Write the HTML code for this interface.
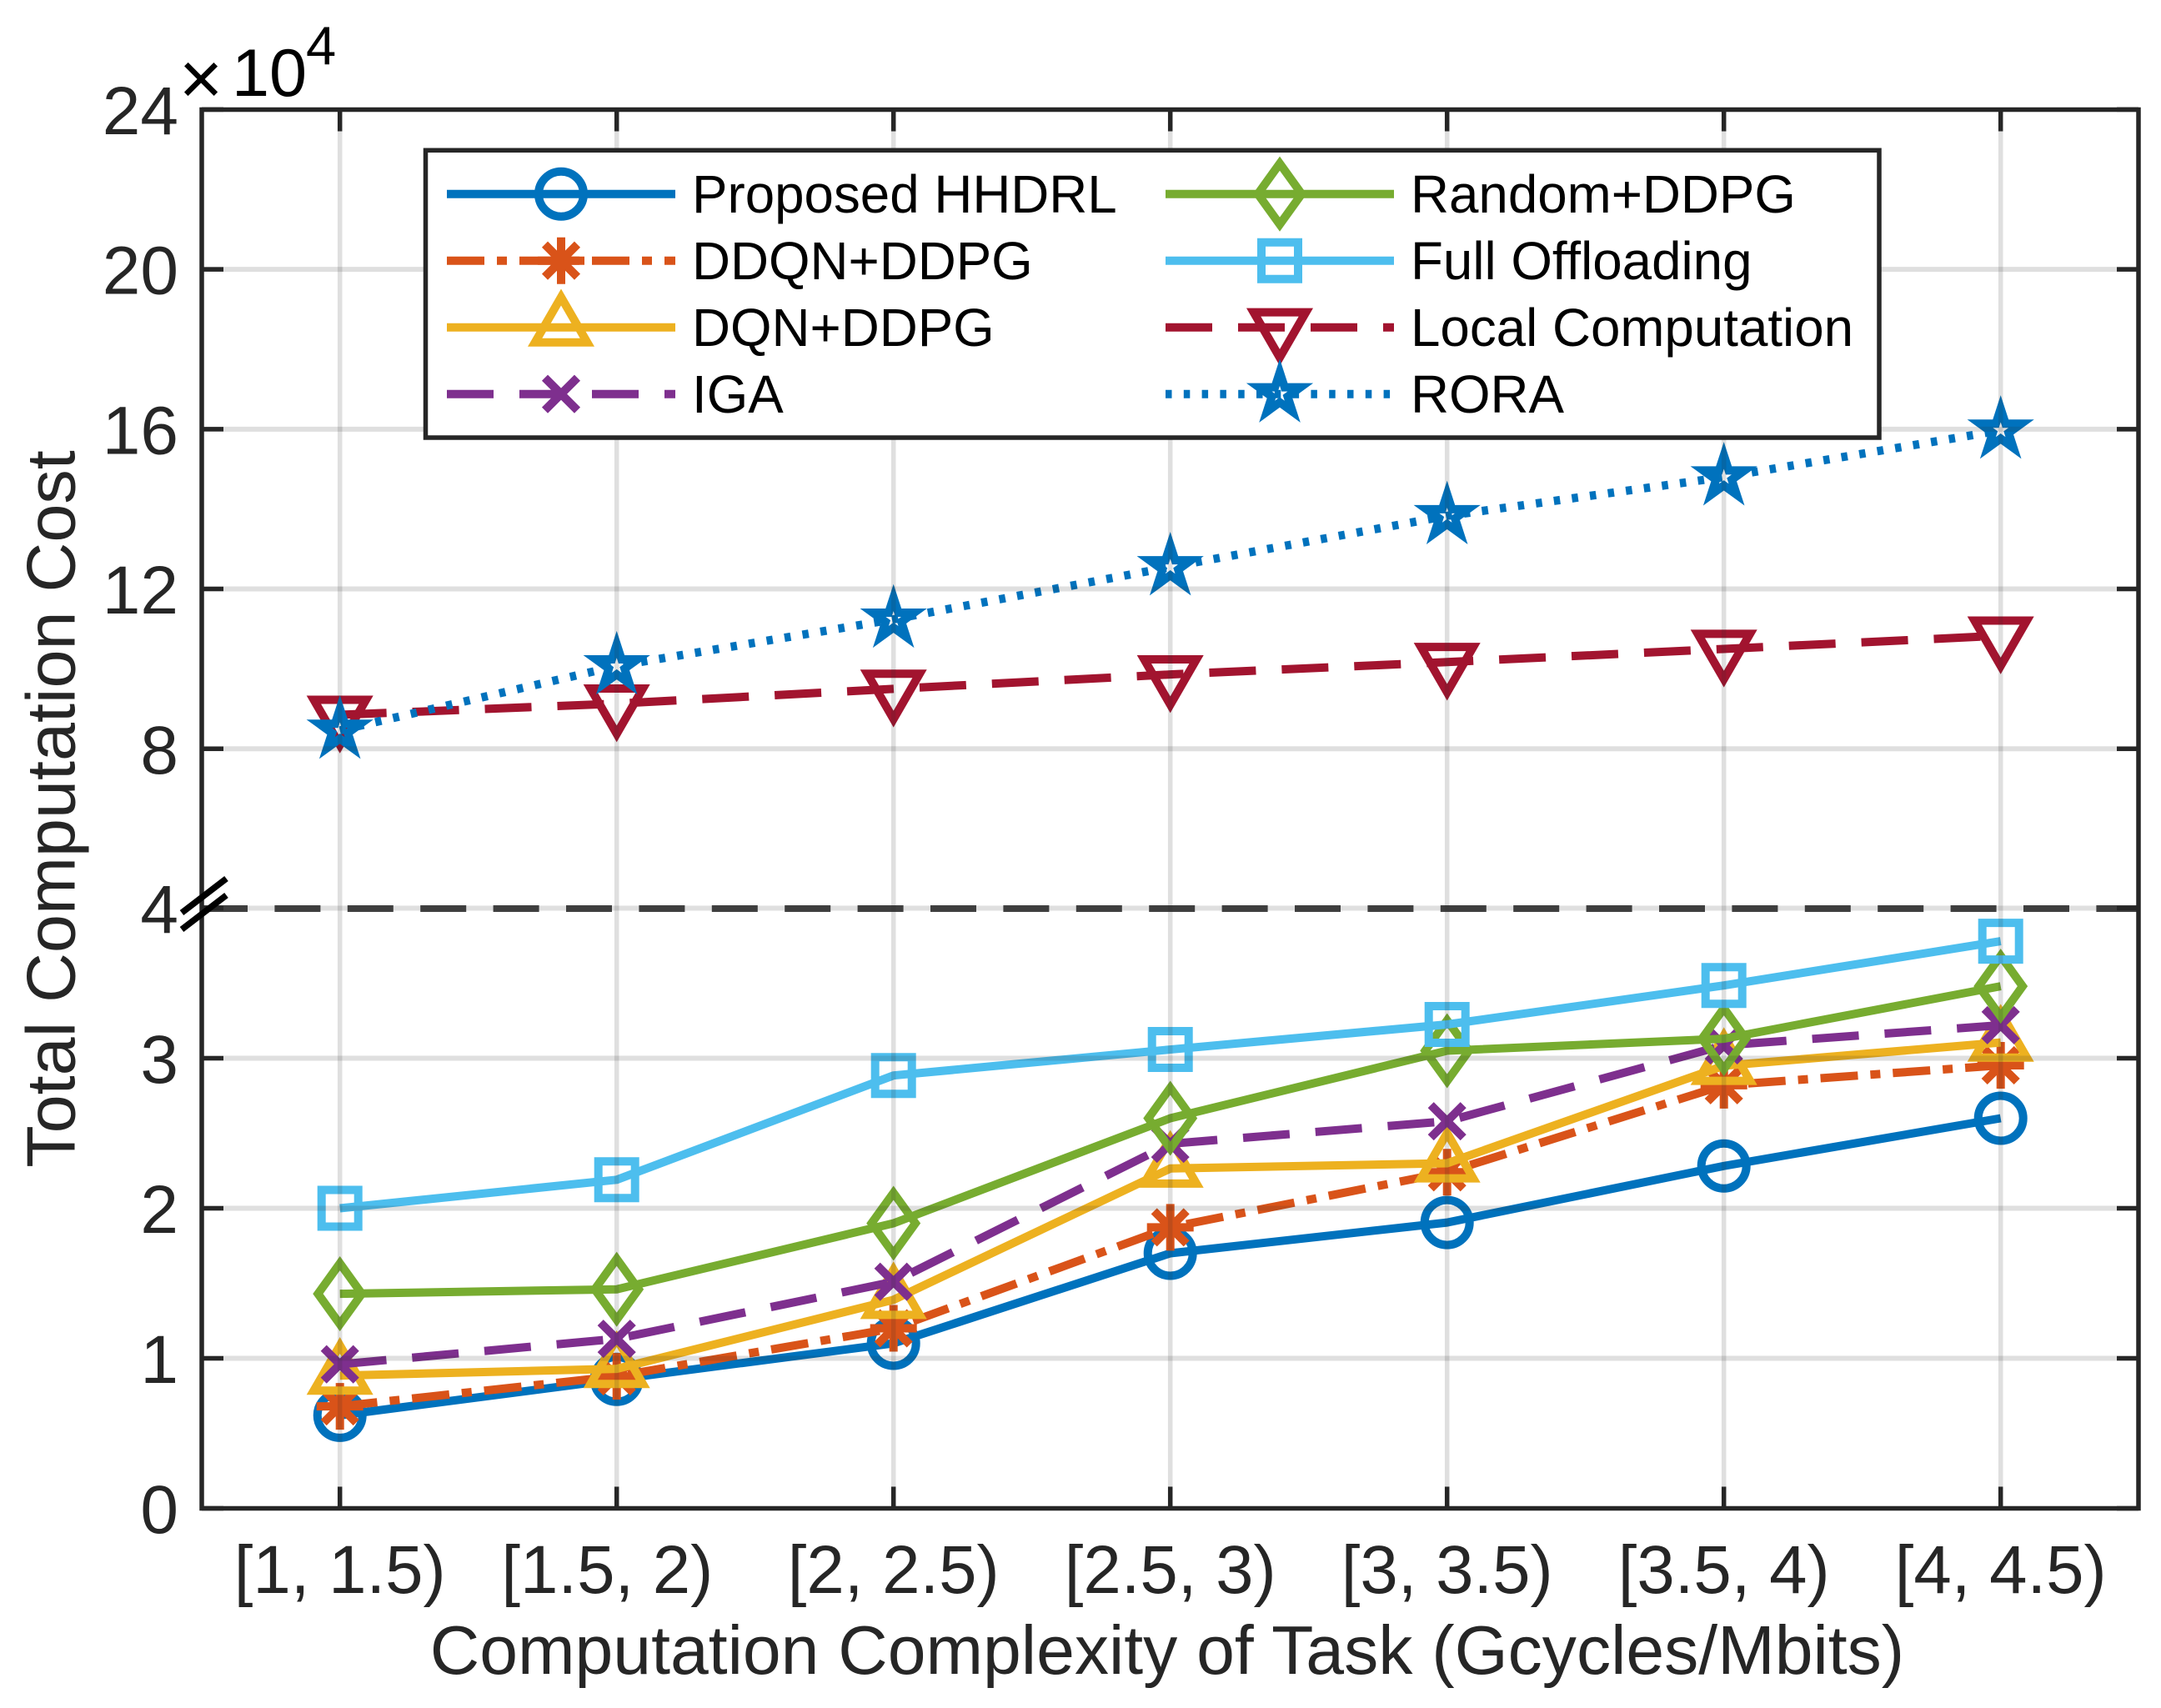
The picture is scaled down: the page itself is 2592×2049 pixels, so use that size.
<!DOCTYPE html>
<html lang="en">
<head>
<meta charset="utf-8">
<title>Total Computation Cost vs Computation Complexity of Task</title>
<style>
  html, body { margin: 0; padding: 0; background: #ffffff; }
  svg { display: block; }
  text { font-family: "Liberation Sans", Arial, sans-serif; }
</style>
</head>
<body>
<svg id="chart" xmlns="http://www.w3.org/2000/svg" width="2592" height="2049" viewBox="0 0 2592 2049">
  <rect x="0" y="0" width="2592" height="2049" fill="#ffffff"/>
  <g id="series-layer"></g>
  <line x1="242" y1="1090" x2="2565" y2="1090" stroke="#000" stroke-opacity="0.74" stroke-width="8" stroke-dasharray="55 32.4"/>
  <g id="grid-layer"></g>
  <g id="tick-layer"></g>
  <rect x="242" y="131.5" width="2323" height="1678" fill="none" stroke="#262626" stroke-width="5.5"/>
  <g stroke="#000" stroke-width="7.5" fill="none">
    <line x1="218" y1="1095" x2="271.5" y2="1054"/>
    <line x1="218" y1="1115" x2="271.5" y2="1074"/>
  </g>
  <g id="label-layer"></g>
  <g fill="#000">
    <text x="241" y="125" font-size="90" text-anchor="middle">×</text>
    <text x="278" y="115" font-size="81">10</text>
    <text x="367" y="77" font-size="65">4</text>
  </g>
  <text x="1400" y="2008" font-size="82.3" fill="#262626" text-anchor="middle">Computation Complexity of Task (Gcycles/Mbits)</text>
  <text x="0" y="0" font-size="82.8" fill="#262626" text-anchor="middle" transform="translate(89.5 970.5) rotate(-90)">Total Computation Cost</text>
  <g id="legend">
    <rect x="510.5" y="180.3" width="1743.5" height="344.7" fill="#ffffff" stroke="#262626" stroke-width="5.5"/>
  </g>
</svg>
<script>
// ---- chart data ----
const categories = ["[1, 1.5)", "[1.5, 2)\u00A0", "[2, 2.5)", "[2.5, 3)", "[3, 3.5)", "[3.5, 4)", "[4, 4.5)"];
const yTickValues = [0, 1, 2, 3, 4, 8, 12, 16, 20, 24];
const yGridValues = [1, 2, 3, 4, 8, 12, 16, 20];
const proposedHHDRL = [0.62, 0.86, 1.10, 1.70, 1.905, 2.282, 2.60];
const ddqnDdpg = [0.68, 0.88, 1.20, 1.873, 2.24, 2.82, 2.953];
const dqnDdpg = [0.885, 0.93, 1.39, 2.265, 2.30, 2.95, 3.105];
const iga = [0.96, 1.13, 1.51, 2.43, 2.58, 3.086, 3.22];
const randomDdpg = [1.43, 1.46, 1.90, 2.60, 3.05, 3.13, 3.48];
const fullOffloading = [2.00, 2.19, 2.885, 3.058, 3.225, 3.485, 3.78];
const localComputation = [8.85, 9.13, 9.5, 9.86, 10.17, 10.5, 10.83];
const rora = [8.46, 10.07, 11.24, 12.55, 13.83, 14.8, 15.97];

// ---- axis functions ----
function xScale(i) { return 407.7 + i * 332; }
function yScale(v) {
  return v <= 4 ? 1809.5 - 180 * v : 1090 - (v - 4) * 47.93;
}

const NS = "http://www.w3.org/2000/svg";
function make(tag, attrs, parent) {
  const el = document.createElementNS(NS, tag);
  for (const k in attrs) el.setAttribute(k, attrs[k]);
  parent.appendChild(el);
  return el;
}

function markerPoints(kind) {
  if (kind === "triUp") return [[0, -36.2], [31.35, 18.1], [-31.35, 18.1]];
  if (kind === "triDown") return [[0, 36.2], [31.35, -18.1], [-31.35, -18.1]];
  if (kind === "diamond") return [[0, -36.5], [26.3, 0], [0, 36.5], [-26.3, 0]];
  if (kind === "square") return [[-22, -22], [22, -22], [22, 22], [-22, 22]];
  if (kind === "star") {
    const pts = [];
    for (let k = 0; k < 10; k++) {
      const r = k % 2 === 0 ? 26 : 26 * 0.382;
      const a = -Math.PI / 2 + k * Math.PI / 5;
      pts.push([r * Math.cos(a), r * Math.sin(a)]);
    }
    return pts;
  }
  return [];
}

function drawMarker(kind, cx, cy, color, parent) {
  const sw = 10;
  if (kind === "circle") {
    const c = make("circle", { cx: cx, cy: cy, r: 27, fill: "none", stroke: color, "stroke-width": sw }, parent);
    return c;
  }
  if (kind === "asterisk" || kind === "cross") {
    const segs = [[-19.5, -19.5, 19.5, 19.5], [-19.5, 19.5, 19.5, -19.5]];
    if (kind === "asterisk") { segs.push([0, -28, 0, 28]); segs.push([-28, 0, 28, 0]); }
    const d = segs.map(s => "M" + (cx + s[0]) + " " + (cy + s[1]) + "L" + (cx + s[2]) + " " + (cy + s[3])).join("");
    return make("path", { d: d, fill: "none", stroke: color, "stroke-width": sw }, parent);
  }
  const pts = markerPoints(kind).map(p => (cx + p[0]) + "," + (cy + p[1])).join(" ");
  return make("polygon", { points: pts, fill: "none", stroke: color, "stroke-width": sw, "stroke-linejoin": "miter", "stroke-miterlimit": 12 }, parent);
}

// ---- series ----
const seriesList = [
  { key: "proposed-hhdrl", label: "Proposed HHDRL", values: proposedHHDRL, color: "#0072BD", dash: "", marker: "circle" },
  { key: "ddqn-ddpg", label: "DDQN+DDPG", values: ddqnDdpg, color: "#D95319", dash: "45 15 12 15", marker: "asterisk" },
  { key: "dqn-ddpg", label: "DQN+DDPG", values: dqnDdpg, color: "#EDB120", dash: "", marker: "triUp" },
  { key: "iga", label: "IGA", values: iga, color: "#7E2F8E", dash: "56 31", marker: "cross" },
  { key: "random-ddpg", label: "Random+DDPG", values: randomDdpg, color: "#77AC30", dash: "", marker: "diamond" },
  { key: "full-offloading", label: "Full Offloading", values: fullOffloading, color: "#4DBEEE", dash: "", marker: "square" },
  { key: "local-computation", label: "Local Computation", values: localComputation, color: "#A2142F", dash: "56 31", marker: "triDown" },
  { key: "rora", label: "RORA", values: rora, color: "#0072BD", dash: "7.5 14.3", marker: "star" }
];

const seriesLayer = document.getElementById("series-layer");
seriesList.forEach(function (s) {
  const g = make("g", {}, seriesLayer);
  
  
  const pts = s.values.map((v, i) => xScale(i) + "," + yScale(v)).join(" ");
  const line = make("polyline", { points: pts, fill: "none", stroke: s.color, "stroke-width": 10, "stroke-linejoin": "round", "stroke-dasharray": s.dash || "none" }, g);
  
  
  s.values.forEach(function (v, i) {
    const m = drawMarker(s.marker, xScale(i), yScale(v), s.color, g);
    
    
  });
});

// ---- grid ----
const gridLayer = document.getElementById("grid-layer");
yGridValues.forEach(function (v) {
  const l = make("line", { x1: 242, x2: 2565, y1: yScale(v), y2: yScale(v), stroke: "#262626", "stroke-opacity": 0.15, "stroke-width": 6 }, gridLayer);
  
  
});
categories.forEach(function (c, i) {
  const l = make("line", { x1: xScale(i), x2: xScale(i), y1: 131.5, y2: 1809.5, stroke: "#262626", "stroke-opacity": 0.15, "stroke-width": 5.5 }, gridLayer);
  
  
});

// ---- ticks ----
const tickLayer = document.getElementById("tick-layer");
yTickValues.forEach(function (v) {
  const y = yScale(v);
  const left = make("line", { x1: 242, x2: 268, y1: y, y2: y, stroke: "#262626", "stroke-width": 5.5 }, tickLayer);
  
  
  const right = make("line", { x1: 2539, x2: 2565, y1: y, y2: y, stroke: "#262626", "stroke-width": 5.5 }, tickLayer);
  
  
});
categories.forEach(function (c, i) {
  const x = xScale(i);
  const bottom = make("line", { x1: x, x2: x, y1: 1783.5, y2: 1809.5, stroke: "#262626", "stroke-width": 5.5 }, tickLayer);
  
  
  const top = make("line", { x1: x, x2: x, y1: 131.5, y2: 157.5, stroke: "#262626", "stroke-width": 5.5 }, tickLayer);
  
  
});

// ---- tick labels ----
const labelLayer = document.getElementById("label-layer");
yTickValues.forEach(function (v) {
  const t = make("text", { x: 214, y: yScale(v) + 29.5, "font-size": 82, fill: "#262626", "text-anchor": "end" }, labelLayer);
  
  
  t.textContent = String(v);
});
categories.forEach(function (c, i) {
  const t = make("text", { x: xScale(i), y: 1911, "font-size": 81.6, fill: "#262626", "text-anchor": "middle" }, labelLayer);
  
  
  t.textContent = c;
});

// ---- legend ----
const legend = document.getElementById("legend");
seriesList.forEach(function (s, i) {
  const col = i < 4 ? 0 : 1;
  const row = i % 4;
  const y = 232.7 + row * 80;
  const x1 = col === 0 ? 536 : 1398;
  const g = make("g", {}, legend);
  
  
  const line = make("line", { x1: x1, x2: x1 + 274, y1: y, y2: y, stroke: s.color, "stroke-width": 10, "stroke-dasharray": s.dash || "none" }, g);
  
  
  const m = drawMarker(s.marker, x1 + 137, y, s.color, g);
  
  
  const t = make("text", { x: x1 + 294, y: y + 22.5, "font-size": 63.7, fill: "#000" }, g);
  
  
  t.textContent = s.label;
});
</script>
</body>
</html>
